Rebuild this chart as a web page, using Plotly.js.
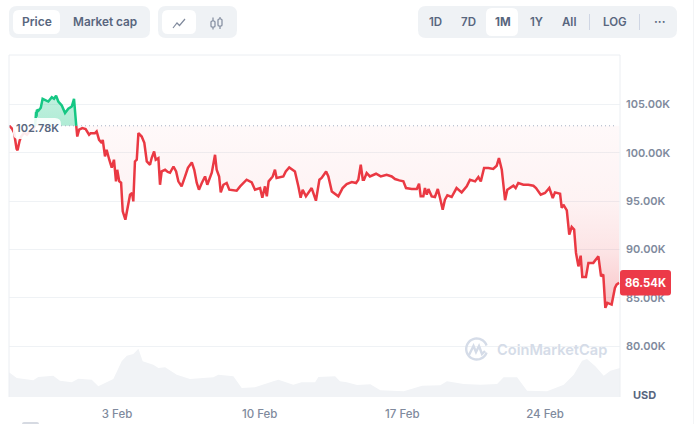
<!DOCTYPE html>
<html><head><meta charset="utf-8">
<script src="https://cdn.plot.ly/plotly-3.0.1.min.js"></script>
<style>html,body{margin:0;padding:0;background:#fff;overflow:hidden}#c{width:694px;height:424px}</style>
</head><body><div id="c"></div>
<script>
// Days counted from 31 Jan = 0 (so 3 = 3 Feb)
const baseline = 102.78;
const priceDays = [-2.28,-2.15,-2.05,-1.98,-1.93,-1.88,-1.83,-1.78,-1.71,-1.56,-1.42,-1.27,-1.12,-1.02,-0.97,-0.95,-0.93,-0.86,-0.74,-0.65,-0.53,-0.37,-0.20,-0.09,0.01,0.12,0.29,0.45,0.61,0.78,0.89,0.94,1.00,1.05,1.14,1.30,1.46,1.63,1.71,1.92,2.00,2.12,2.25,2.30,2.41,2.49,2.62,2.74,2.85,2.95,3.01,3.11,3.20,3.28,3.41,3.51,3.64,3.74,3.80,3.88,3.97,4.05,4.21,4.34,4.46,4.62,4.70,4.82,4.90,5.03,5.11,5.19,5.36,5.49,5.60,5.77,5.90,6.01,6.17,6.34,6.48,6.67,6.79,6.91,7.02,7.16,7.32,7.43,7.65,7.81,7.89,8.01,8.09,8.22,8.38,8.51,8.87,9.04,9.36,9.61,9.77,10.02,10.13,10.26,10.35,10.44,10.64,10.75,10.83,11.16,11.28,11.45,11.73,11.90,12.01,12.11,12.27,12.55,12.76,12.93,13.04,13.26,13.37,13.54,13.86,14.03,14.07,14.27,14.52,14.73,14.84,14.96,15.06,15.12,15.25,15.41,15.71,15.94,16.23,16.48,16.64,16.85,17.05,17.18,17.46,17.71,17.82,17.90,18.03,18.11,18.20,18.28,18.44,18.60,18.74,18.85,18.98,19.09,19.21,19.42,19.66,19.91,20.16,20.32,20.57,20.73,20.85,21.01,21.22,21.46,21.63,21.74,21.88,22.04,22.15,22.45,22.56,22.69,22.94,23.18,23.43,23.56,23.79,24.00,24.21,24.38,24.49,24.74,24.82,24.90,25.07,25.19,25.31,25.43,25.52,25.64,25.75,25.83,26.01,26.13,26.37,26.62,26.75,26.86,26.96,27.06,27.27,27.43,27.51,27.64];
const priceK = [102.78,102.47,102.06,101.23,100.40,100.25,100.92,101.23,101.64,102.06,101.85,102.26,102.37,102.78,104.23,103.71,104.44,104.33,104.64,105.57,105.47,105.29,105.74,105.57,105.88,105.29,104.88,104.09,104.54,104.77,105.57,104.12,102.78,101.67,102.37,102.54,102.44,101.85,102.02,102.02,102.19,101.33,100.99,101.33,99.61,100.30,99.27,98.44,99.27,97.03,98.23,97.03,96.89,93.93,93.07,94.10,95.65,95.83,94.96,99.09,99.27,102.02,101.67,101.02,99.09,98.75,99.44,100.12,99.27,99.44,96.68,98.06,98.23,98.00,97.92,98.57,98.06,97.03,96.51,97.54,98.44,98.99,98.23,96.89,96.17,96.86,97.54,96.68,97.92,99.78,98.23,97.54,95.89,96.68,96.86,96.17,96.06,96.51,97.20,96.92,96.17,96.34,95.34,96.51,95.48,97.03,97.54,98.23,97.38,97.54,98.06,98.47,98.06,96.51,95.34,96.17,95.48,96.34,95.03,97.20,97.38,98.06,97.54,95.99,95.48,96.17,96.34,96.76,96.96,96.86,97.20,98.75,97.20,97.20,97.89,97.54,97.82,97.54,97.72,97.54,97.27,97.13,97.03,96.34,96.24,96.24,96.79,95.48,95.48,96.34,95.65,96.24,95.48,95.41,96.24,95.31,94.10,95.13,95.58,95.41,96.34,95.89,96.51,97.20,97.03,97.48,97.03,98.41,98.41,98.31,98.65,99.44,98.23,95.08,96.17,96.58,96.34,96.86,96.68,96.68,96.58,96.34,95.65,95.83,96.34,95.31,95.89,95.75,94.28,94.62,94.03,91.52,92.31,92.04,89.63,88.24,89.35,87.15,87.15,88.60,88.60,89.28,87.21,87.39,83.95,84.46,84.29,86.01,86.35,86.54];
const volDays = [-2.3,-1.92,-1.11,-0.86,-0.13,0.20,0.78,1.10,1.76,2.08,2.82,3.23,3.48,3.80,4.05,4.26,4.78,5.03,5.36,5.93,6.58,7.73,7.97,8.71,9.12,9.77,10.67,10.92,11.65,12.06,12.72,12.88,13.70,13.94,14.27,14.78,15.43,15.92,17.07,17.97,18.86,19.19,20.01,20.83,21.65,21.97,22.63,23.12,24.10,24.92,25.41,25.82,26.06,26.47,26.88,27.21,27.68];
const volume = [74,57,50,60,64,49,44,55,52,32,54,107,124,129,145,107,97,87,89,67,54,59,67,62,27,29,47,52,37,44,44,60,62,47,44,36,38,20,17,34,35,47,39,37,39,59,59,19,17,37,67,109,114,92,64,79,87];
const yTicks = [80,85,90,95,100,105];
const yLabels = ['80.00K','85.00K','90.00K','95.00K','100.00K','105.00K'];
const xTicks = [3,10,17,24];
const xLabels = ['3 Feb','10 Feb','17 Feb','24 Feb'];

const RED='#ea3943', GREEN='#16c784', GRID='#eff2f5', MUTED='#808a9d', TEXT='#58667e';
const FONT='Inter, "Noto Sans", sans-serif';
const L=9,R=620,T=55,B=397,W=694,H=424;
const px=x=>(x-L)/(R-L), py=y=>(B-y)/(B-T);

// split at points that sit exactly on the baseline
const runs=[]; let start=0;
priceK.forEach((p,i)=>{ if(i>0 && p===baseline){runs.push([start,i]);start=i;} });
runs.push([start,priceK.length-1]);

const traces=[{x:volDays,y:volume,yaxis:'y2',type:'scatter',mode:'lines',line:{width:0},fill:'tozeroy',fillcolor:'#f1f3f6',hoverinfo:'skip'}];
runs.forEach(([a,b])=>{
  const xs=priceDays.slice(a,b+1), ys=priceK.slice(a,b+1);
  const up=ys.some(v=>v>baseline);
  traces.push({x:xs.concat([xs[xs.length-1],xs[0]]),y:ys.concat([baseline,baseline]),type:'scatter',mode:'lines',line:{width:0},fill:'toself',
    fillgradient: up
      ? {type:'vertical',start:102.78,stop:106,colorscale:[[0,'rgba(22,199,132,0.34)'],[1,'rgba(22,199,132,0.26)']]}
      : {type:'vertical',start:102.78,stop:84,colorscale:[[0,'rgba(234,57,67,0.03)'],[0.4,'rgba(234,57,67,0.06)'],[0.7,'rgba(234,57,67,0.14)'],[1,'rgba(234,57,67,0.3)']]},
    hoverinfo:'skip'});
});
runs.forEach(([a,b])=>{
  const xs=priceDays.slice(a,b+1), ys=priceK.slice(a,b+1);
  const up=ys.some(v=>v>baseline);
  traces.push({x:xs,y:ys,type:'scatter',mode:'lines',line:{color:up?GREEN:RED,width:2.5},hoverinfo:'skip'});
});

function rr(x0,y0,x1,y1,r,fill,extra){
  const X=v=>px(v),Y=v=>py(v);
  const p=`M${X(x0+r)},${Y(y0)}L${X(x1-r)},${Y(y0)}Q${X(x1)},${Y(y0)} ${X(x1)},${Y(y0+r)}L${X(x1)},${Y(y1-r)}Q${X(x1)},${Y(y1)} ${X(x1-r)},${Y(y1)}L${X(x0+r)},${Y(y1)}Q${X(x0)},${Y(y1)} ${X(x0)},${Y(y1-r)}L${X(x0)},${Y(y0+r)}Q${X(x0)},${Y(y0)} ${X(x0+r)},${Y(y0)}Z`;
  return Object.assign({type:'path',xref:'paper',yref:'paper',path:p,fillcolor:fill,line:{width:0},layer:'above'},extra||{});
}
function ln(pts,color,width){
  const p=pts.map((q,i)=>(i?'L':'M')+px(q[0])+','+py(q[1])).join('');
  return {type:'path',xref:'paper',yref:'paper',path:p,line:{color:color,width:width},fillcolor:'rgba(0,0,0,0)',layer:'above'};
}
function txt(x,y,s,size,color,weight,anchor){
  return {xref:'paper',yref:'paper',x:px(x),y:py(y),text:s,showarrow:false,xanchor:anchor||'center',yanchor:'middle',
    font:{family:FONT,size:size,color:color,weight:weight||600},borderpad:0};
}
function arc(cx,cy,r,a0,a1,n){const o=[];for(let i=0;i<=n;i++){const a=(a0+(a1-a0)*i/n)*Math.PI/180;o.push([cx+r*Math.cos(a),cy+r*Math.sin(a)]);}return o;}

const shapes=[
  ln([[L,B],[L,T],[R,T],[R,B]],'#ebeef2',1),
  {type:'line',xref:'paper',yref:'y',x0:0,x1:0.995,y0:baseline,y1:baseline,line:{color:'#a6b0c3',width:1,dash:'1px,3px'},layer:'above'},
  rr(13,118,61,139,6,'rgba(255,255,255,0.9)'),
  rr(9,6,150,38,8,'#eff2f5'), rr(13,10,60,34,6,'#ffffff'),
  rr(158,6,237,38,8,'#eff2f5'), rr(162,10,196,34,6,'#ffffff'),
  rr(418,6,677,38,8,'#eff2f5'), rr(486,8,518,36,6,'#ffffff'),
  ln([[589.5,14],[589.5,30]],'#cfd6e4',1), ln([[639.5,14],[639.5,30]],'#cfd6e4',1),
  ln([[173,28],[177,23],[179.5,25.5],[185,19]],'#808a9d',1.2),
  rr(211,21,215,27,1,'rgba(0,0,0,0)',{line:{color:'#808a9d',width:1.2}}),
  rr(218,19,222,26,1,'rgba(0,0,0,0)',{line:{color:'#808a9d',width:1.2}}),
  ln([[213,17.5],[213,21]],'#808a9d',1.2), ln([[213,27],[213,29.5]],'#808a9d',1.2),
  ln([[220,17],[220,19]],'#808a9d',1.2), ln([[220,26],[220,29]],'#808a9d',1.2),
  rr(620,270,671,295.5,3,'#ec3a48'),
  ln(arc(476.7,349,10.5,20,340,36),'#d5dcE8',2.4),
  ln([[469,355],[473.5,346],[476,352],[479,346],[482,354],[485,351]],'#d5dcE8',2.4),
  rr(22,422,39,430,2,'#d6dae2'),
  ln([[693.5,0],[693.5,424]],'#f3f4f6',1)
];

const annotations=[
  txt(36.5,22,'Price',12,TEXT), txt(104.5,22,'Market cap',11.8,TEXT),
  txt(435.3,22,'1D',11.5,TEXT), txt(468.7,22,'7D',11.5,TEXT),
  txt(502.5,22,'1M',11.5,TEXT,700), txt(536,22,'1Y',11.5,TEXT), txt(568.7,22,'All',11.5,TEXT),
  txt(614.7,22,'LOG',11.5,TEXT), txt(659.7,21,'···',12,TEXT),
  txt(15,127.5,'102.78K',11,TEXT,600,'left'),
  txt(645,283,'86.54K',11.3,'#ffffff',700),
  txt(644.7,394.5,'USD',11,TEXT,700),
  txt(496,350,'CoinMarketCap',14.6,'#d5dce8',600,'left')
];

Plotly.newPlot('c',traces,{
  width:W,height:H,
  margin:{l:L,r:W-R,t:T,b:H-B,pad:0},
  paper_bgcolor:'#fff',plot_bgcolor:'#fff',
  showlegend:false,
  xaxis:{type:'linear',range:[-2.3,27.68],tickmode:'array',tickvals:xTicks,ticktext:xLabels,showgrid:false,zeroline:false,showline:false,ticks:'',
    ticklabelstandoff:8,tickfont:{family:FONT,size:11.5,color:MUTED,weight:500},fixedrange:true},
  yaxis:{side:'right',range:[74.73,110.1],tickmode:'array',tickvals:yTicks,ticktext:yLabels,showgrid:true,gridcolor:GRID,gridwidth:1,zeroline:false,showline:false,ticks:'',
    ticklabelstandoff:5,tickfont:{family:FONT,size:11,color:MUTED,weight:600},fixedrange:true},
  yaxis2:{overlaying:'y',range:[0,1026],visible:false,fixedrange:true},
  shapes:shapes,annotations:annotations
},{displayModeBar:false,staticPlot:true});
</script></body></html>
